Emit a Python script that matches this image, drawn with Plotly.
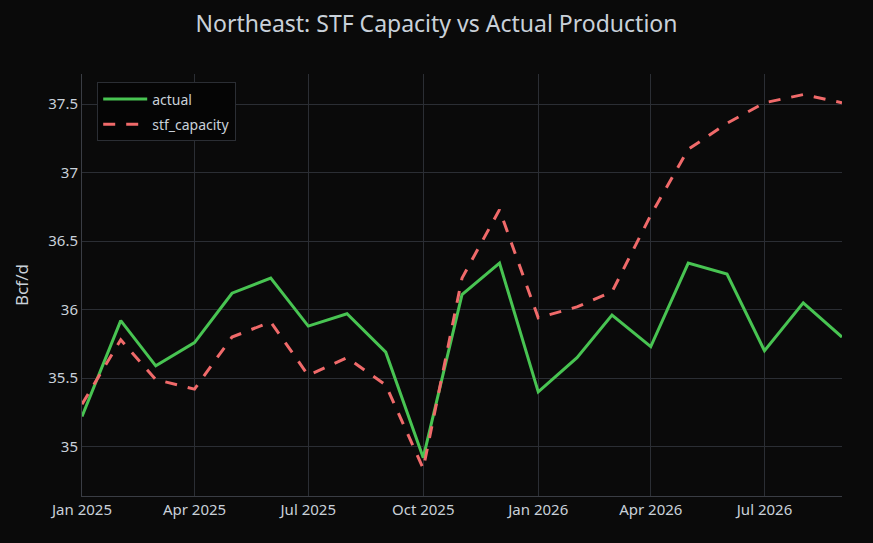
import plotly.graph_objects as go

# monthly data, Jan 2025 .. Sep 2026
months = ['2025-01-01', '2025-02-01', '2025-03-01', '2025-04-01', '2025-05-01', '2025-06-01',
          '2025-07-01', '2025-08-01', '2025-09-01', '2025-10-01', '2025-11-01', '2025-12-01',
          '2026-01-01', '2026-02-01', '2026-03-01', '2026-04-01', '2026-05-01', '2026-06-01',
          '2026-07-01', '2026-08-01', '2026-09-01']

actual = [35.22, 35.92, 35.59, 35.76, 36.12, 36.23, 35.88, 35.97, 35.69, 34.92, 36.11, 36.34,
          35.40, 35.65, 35.96, 35.73, 36.34, 36.26, 35.70, 36.05, 35.80]

stf_capacity = [35.31, 35.78, 35.49, 35.42, 35.80, 35.91, 35.52, 35.65, 35.45, 34.84, 36.23, 36.73,
                35.94, 36.02, 36.13, 36.69, 37.17, 37.36, 37.51, 37.57, 37.51]

bg = '#0a0a0a'
grid = '#2b2e34'
txt = '#c9d1d9'

fig = go.Figure()
fig.add_trace(go.Scatter(x=months, y=actual, name='actual', mode='lines', legendgroup='a',
                         line=dict(color='#48c452', width=3)))
fig.add_trace(go.Scatter(x=months, y=stf_capacity, name='stf_capacity', mode='lines', legendgroup='b',
                         line=dict(color='#f06a6a', width=3, dash='12px,11px')))

fig.update_layout(
    width=873, height=543,
    paper_bgcolor=bg, plot_bgcolor=bg,
    font=dict(family='Noto Sans, Open Sans, sans-serif', color=txt, size=13),
    title=dict(text='Northeast: STF Capacity vs Actual Production', x=0.5, xanchor='center',
               y=0.956, yanchor='middle', font=dict(size=23, color=txt)),
    margin=dict(l=82, r=31, t=74, b=47),
    legend=dict(x=0.02, y=0.98, xanchor='left', yanchor='top', itemwidth=44,
                traceorder='grouped', tracegroupgap=4,
                bgcolor='#050505', bordercolor='#2b2e34', borderwidth=1,
                font=dict(size=14, color=txt)),
    showlegend=True,
)
fig.update_xaxes(showgrid=True, gridcolor=grid, zeroline=False, showline=True, linecolor='#3a3d44',
                 dtick='M3', tickformat='%b %Y', tickfont=dict(size=15))
fig.update_yaxes(range=[34.64, 37.72], showgrid=True, gridcolor=grid, zeroline=False,
                 showline=True, linecolor='#3a3d44', dtick=0.5, tickfont=dict(size=15),
                 title=dict(text='Bcf/d', font=dict(size=17)))

# page body without the default white margin
fig.write_html('out.html', config={'displayModeBar': False},
               post_script="document.body.style.margin='0';document.body.style.background='#0a0a0a';")
